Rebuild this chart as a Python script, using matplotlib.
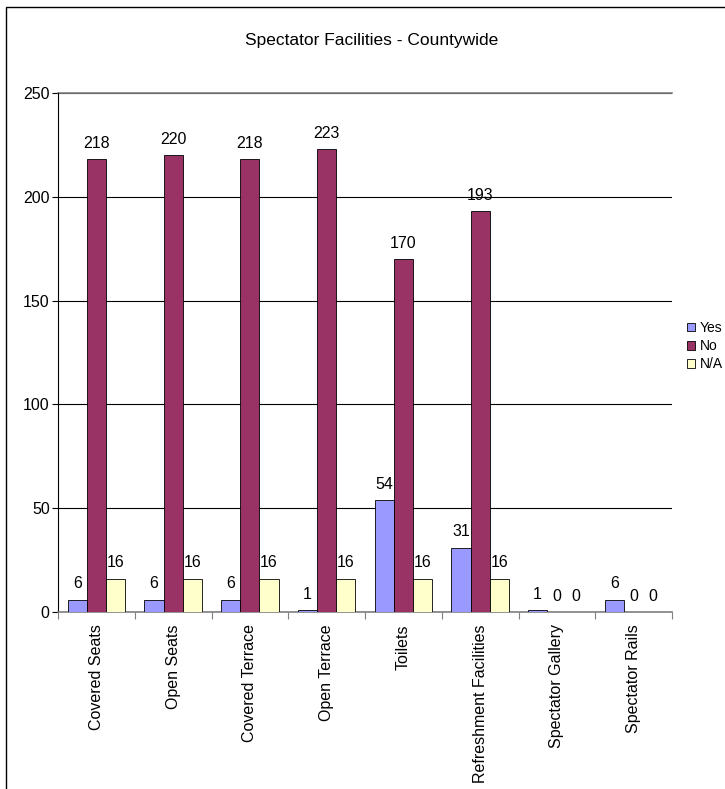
import numpy as np
import matplotlib.pyplot as plt
from matplotlib.patches import Rectangle

plt.rcParams['font.family'] = ['Liberation Sans', 'DejaVu Sans']

categories = ["Covered Seats", "Open Seats", "Covered Terrace", "Open Terrace",
              "Toilets", "Refreshment Facilities", "Spectator Gallery", "Spectator Rails"]
yes_vals = [6, 6, 6, 1, 54, 31, 1, 6]
no_vals = [218, 220, 218, 223, 170, 193, 0, 0]
na_vals = [16, 16, 16, 16, 16, 16, 0, 0]
series_names = ["Yes", "No", "N/A"]
colors = ["#9999FF", "#993366", "#FFFFCC"]

W, H = 725, 789
fig = plt.figure(figsize=(W / 100, H / 100), dpi=100)

# chart border
fig.patches.append(Rectangle((6 / W, -0.1), 2.0, 1 - 7 / H + 0.1, transform=fig.transFigure,
                             fill=False, edgecolor='black', linewidth=1.0))

ax = fig.add_axes([58 / W, 1 - 612 / H, (672 - 58) / W, (612 - 93) / H])

x = np.arange(len(categories))
bw = 0.25
series = [yes_vals, no_vals, na_vals]
for i, (vals, name, c) in enumerate(zip(series, series_names, colors)):
    pos = x + (i - 1) * bw
    ax.bar(pos, vals, width=bw, color=c, edgecolor='black', linewidth=0.6,
           label=name, zorder=3)
    for p, v in zip(pos, vals):
        ax.annotate(str(v), (p, v), xytext=(0, 6), textcoords='offset points',
                    ha='center', va='bottom', fontsize=11.5, zorder=4)

ax.set_xlim(-0.5, len(categories) - 0.5)
ax.set_ylim(0, 250)
ax.set_yticks(np.arange(0, 251, 50))
ax.yaxis.grid(True, color='black', linewidth=0.8, zorder=0)
ax.axhline(250, color='#808080', linewidth=1.2, zorder=1, clip_on=False)
ax.tick_params(axis='y', direction='out', length=4, labelsize=11.5, pad=2)

ax.set_xticks(np.arange(-0.5, len(categories), 1))
ax.set_xticklabels([])
ax.set_xticks(x, minor=True)
ax.set_xticklabels(categories, minor=True, rotation=90, fontsize=11.5)
ax.tick_params(axis='x', which='major', direction='out', length=5, color='#808080')
ax.tick_params(axis='x', which='minor', length=0, pad=9)

for s in ['top', 'right']:
    ax.spines[s].set_visible(False)
ax.spines['left'].set_color('black')
ax.spines['bottom'].set_color('#808080')
ax.spines['bottom'].set_linewidth(1.2)
ax.set_axisbelow(True)

fig.text(372 / W, 1 - 40 / H, "Spectator Facilities - Countywide", ha='center', va='center',
         fontsize=12.5)

fig.legend(loc='center left', bbox_to_anchor=(687 / W, 1 - 346 / H), frameon=False,
           borderpad=0, borderaxespad=0, handlelength=0.6, handleheight=0.6,
           handletextpad=0.3, labelspacing=0.3, fontsize=10)

fig.savefig("out.png", dpi=100)
